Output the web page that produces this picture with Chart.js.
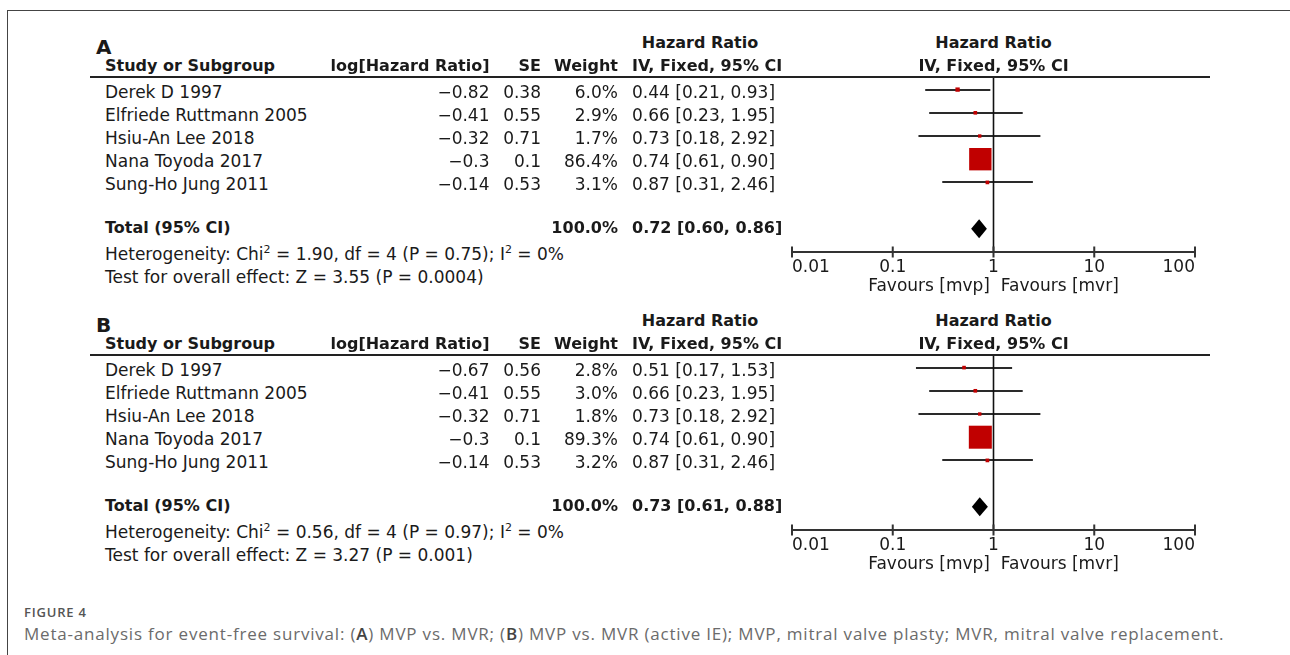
<!DOCTYPE html>
<html>
<head>
<meta charset="utf-8">
<script src="https://cdn.jsdelivr.net/npm/chart.js@4.4.0/dist/chart.umd.min.js"></script>
<style>
  body { margin: 0; background: #fff; }
  #page { position: relative; width: 1290px; height: 655px; overflow: hidden; font-family: "DejaVu Sans", sans-serif; color: #1a1a1a; }
  #frame { position: absolute; left: 7px; top: 10px; right: 0; bottom: -5px; border-top: 1px solid #444; border-left: 1px solid #444; }
  .t { position: absolute; white-space: nowrap; font-size: 17px; line-height: 20px; height: 20px; }
  .b { font-weight: bold; font-size: 16px; }
  .letter { font-weight: bold; font-size: 20px; }
  .t sup { font-size: 11px; vertical-align: baseline; position: relative; top: -7px; }
  .rule { position: absolute; left: 90px; width: 1120px; height: 2px; background: #222; }
  canvas { position: absolute; }
  .cap { position: absolute; left: 24px; white-space: nowrap; font-family: "Open Sans", sans-serif; line-height: 20px; height: 20px; }
  #figno { top: 602px; font-size: 13px; letter-spacing: 0.8px; font-weight: 600; color: #555; }
  #figtxt { top: 624px; font-size: 17px; letter-spacing: 0.8px; color: #6b6b6b; }
  #figtxt b { font-weight: 600; color: #444; }
</style>
</head>
<body>
<div id="page">
  <div id="frame"></div>
  <canvas id="plotA" width="450" height="250" style="left:770px; top:60px;"></canvas>
  <canvas id="plotB" width="450" height="250" style="left:770px; top:338px;"></canvas>
  <div class="cap" id="figno">FIGURE 4</div>
  <div class="cap" id="figtxt">Meta-analysis for event-free survival: (<b>A</b>) MVP vs. MVR; (<b>B</b>) MVP vs. MVR (active IE); MVP, mitral valve plasty; MVR, mitral valve replacement.</div>
</div>
<script>
// ---------------- data ----------------
const studies = ["Derek D 1997", "Elfriede Ruttmann 2005", "Hsiu-An Lee 2018", "Nana Toyoda 2017", "Sung-Ho Jung 2011"];

// panel A: MVP vs. MVR
const logHrA = [-0.82, -0.41, -0.32, -0.3, -0.14];
const seA = [0.38, 0.55, 0.71, 0.1, 0.53];
const weightA = [6.0, 2.9, 1.7, 86.4, 3.1];
const hrA = [0.44, 0.66, 0.73, 0.74, 0.87];
const loA = [0.21, 0.23, 0.18, 0.61, 0.31];
const hiA = [0.93, 1.95, 2.92, 0.90, 2.46];
const totalA = [0.72, 0.60, 0.86]; // estimate, lower, upper
const totalWeightA = 100.0;
const hetA = [1.90, 4, 0.75, 0]; // chi2, df, P, I2
const effectA = [3.55, 0.0004]; // Z, P

// panel B: MVP vs. MVR (active IE)
const logHrB = [-0.67, -0.41, -0.32, -0.3, -0.14];
const seB = [0.56, 0.55, 0.71, 0.1, 0.53];
const weightB = [2.8, 3.0, 1.8, 89.3, 3.2];
const hrB = [0.51, 0.66, 0.73, 0.74, 0.87];
const loB = [0.17, 0.23, 0.18, 0.61, 0.31];
const hiB = [1.53, 1.95, 2.92, 0.90, 2.46];
const totalB = [0.73, 0.61, 0.88];
const totalWeightB = 100.0;
const hetB = [0.56, 4, 0.97, 0];
const effectB = [3.27, 0.001];

const tickVals = [0.01, 0.1, 1, 10, 100];
const tickLabels = ["0.01", "0.1", "1", "10", "100"];

// ---------------- table text ----------------
const page = document.getElementById("page");

function put(html, x, cy, align, cls) {
  const d = document.createElement("div");
  d.className = "t" + (cls ? " " + cls : "");
  d.innerHTML = html;
  d.style.top = (cy - 10) + "px";
  if (align === "right") {
    d.style.right = (1290 - x) + "px";
  } else if (align === "center") {
    d.style.left = (x - 200) + "px";
    d.style.width = "400px";
    d.style.textAlign = "center";
  } else {
    d.style.left = x + "px";
  }
  page.appendChild(d);
}

const minus = (v) => String(v).replace("-", "\u2212");
const ci = (h, l, u) => h.toFixed(2) + " [" + l.toFixed(2) + ", " + u.toFixed(2) + "]";

function table(oy, letter, logHr, se, weight, hr, lo, hi, total, totalW, het, effect) {
  put(letter, 96, 47 + oy, "left", "letter");
  put("Hazard Ratio", 700, 43.3 + oy, "center", "b");
  put("Hazard Ratio", 993.5, 43.3 + oy, "center", "b");
  put("Study or Subgroup", 105, 65.5 + oy, "left", "b");
  put("log[Hazard Ratio]", 489.5, 65.5 + oy, "right", "b");
  put("SE", 541, 65.5 + oy, "right", "b");
  put("Weight", 618, 65.5 + oy, "right", "b");
  put("IV, Fixed, 95% CI", 632, 65.5 + oy, "left", "b");
  put("IV, Fixed, 95% CI", 993.5, 65.5 + oy, "center", "b");

  const rule = document.createElement("div");
  rule.className = "rule";
  rule.style.top = (76 + oy) + "px";
  page.appendChild(rule);

  studies.forEach((s, i) => {
    const cy = 91.5 + 23.2 * i + oy;
    put(s, 105, cy, "left");
    put(minus(logHr[i]), 489.5, cy, "right");
    put(String(se[i]), 541, cy, "right");
    put(weight[i].toFixed(1) + "%", 618, cy, "right");
    put(ci(hr[i], lo[i], hi[i]), 632, cy, "left");
  });

  put("Total (95% CI)", 105, 228 + oy, "left", "b");
  put(totalW.toFixed(1) + "%", 618, 228 + oy, "right", "b");
  put(ci(total[0], total[1], total[2]), 632, 228 + oy, "left", "b");
  put("Heterogeneity: Chi<sup>2</sup> = " + het[0].toFixed(2) + ", df = " + het[1] +
      " (P = " + het[2] + "); I<sup>2</sup> = " + het[3] + "%", 105, 254 + oy, "left");
  put("Test for overall effect: Z = " + effect[0].toFixed(2) + " (P = " + effect[1] + ")", 105, 276.7 + oy, "left");
}

table(0, "A", logHrA, seA, weightA, hrA, loA, hiA, totalA, totalWeightA, hetA, effectA);
table(278, "B", logHrB, seB, weightB, hrB, loB, hiB, totalB, totalWeightB, hetB, effectB);

// ---------------- forest plot ----------------
const forestPlugin = {
  id: "forest",
  beforeDatasetsDraw(chart, args, opts) {
    const { ctx, scales: { x, y } } = chart;
    ctx.save();
    ctx.strokeStyle = "#2a2a2a";
    ctx.lineWidth = 2;
    opts.lo.forEach((l, i) => {
      const py = Math.round(y.getPixelForValue(i));
      ctx.beginPath();
      ctx.moveTo(x.getPixelForValue(l), py);
      ctx.lineTo(x.getPixelForValue(opts.hi[i]), py);
      ctx.stroke();
    });
    ctx.restore();
  },
  afterDatasetsDraw(chart, args, opts) {
    const { ctx, chartArea, scales: { x, y } } = chart;
    ctx.save();
    // summary diamond
    const ty = y.getPixelForValue(opts.lo.length + 1);
    ctx.fillStyle = "#000";
    ctx.beginPath();
    ctx.moveTo(x.getPixelForValue(opts.total[1]), ty);
    ctx.lineTo(x.getPixelForValue(opts.total[0]), ty - 9.5);
    ctx.lineTo(x.getPixelForValue(opts.total[2]), ty);
    ctx.lineTo(x.getPixelForValue(opts.total[0]), ty + 9.5);
    ctx.closePath();
    ctx.fill();
    // line of no effect
    const x1 = x.getPixelForValue(1);
    ctx.strokeStyle = "#111";
    ctx.lineWidth = 1.6;
    ctx.beginPath();
    ctx.moveTo(x1, chartArea.top);
    ctx.lineTo(x1, chartArea.bottom);
    ctx.stroke();
    // axis with ticks
    const ay = chartArea.bottom;
    ctx.strokeStyle = "#333";
    ctx.lineWidth = 2;
    ctx.beginPath();
    ctx.moveTo(x.getPixelForValue(tickVals[0]), ay);
    ctx.lineTo(x.getPixelForValue(tickVals[tickVals.length - 1]), ay);
    tickVals.forEach((v) => {
      const px = x.getPixelForValue(v);
      ctx.moveTo(px, ay - 5.5);
      ctx.lineTo(px, ay + 5.5);
    });
    ctx.stroke();
    ctx.restore();
  },
};

function forestChart(id, hr, lo, hi, weight, total) {
  new Chart(document.getElementById(id), {
    type: "scatter",
    data: {
      datasets: [{
        data: hr.map((v, i) => ({ x: v, y: i })),
        pointStyle: "rect",
        pointRadius: weight.map((w) => (3 + 0.224 * w) / Math.SQRT2),
        backgroundColor: "#c00000",
        borderWidth: 0,
      }],
    },
    options: {
      responsive: false,
      animation: false,
      events: [],
      layout: { padding: { left: 22, right: 25, top: 18, bottom: 8 } },
      plugins: {
        legend: { display: false },
        tooltip: { enabled: false },
        forest: { lo: lo, hi: hi, total: total },
      },
      scales: {
        x: {
          type: "logarithmic",
          min: tickVals[0],
          max: tickVals[tickVals.length - 1],
          afterBuildTicks: (scale) => {
            scale.ticks = tickVals.map((v) => ({ value: v }));
          },
          afterFit: (scale) => {
            scale.height = 50;
          },
          grid: { display: false, drawTicks: false },
          border: { display: false },
          ticks: {
            align: "inner",
            padding: 5.5,
            autoSkip: false,
            maxRotation: 0,
            color: "#1a1a1a",
            font: { family: "DejaVu Sans", size: 17 },
            callback: (value, index) => tickLabels[index],
          },
          title: {
            display: true,
            text: "Favours [mvp]  Favours [mvr]",
            color: "#1a1a1a",
            font: { family: "DejaVu Sans", size: 17 },
            padding: { top: 0, bottom: 5 },
          },
        },
        y: { type: "linear", display: false, min: -0.5, max: 7, reverse: true },
      },
    },
    plugins: [forestPlugin],
  });
}

forestChart("plotA", hrA, loA, hiA, weightA, totalA);
forestChart("plotB", hrB, loB, hiB, weightB, totalB);
</script>
</body>
</html>
